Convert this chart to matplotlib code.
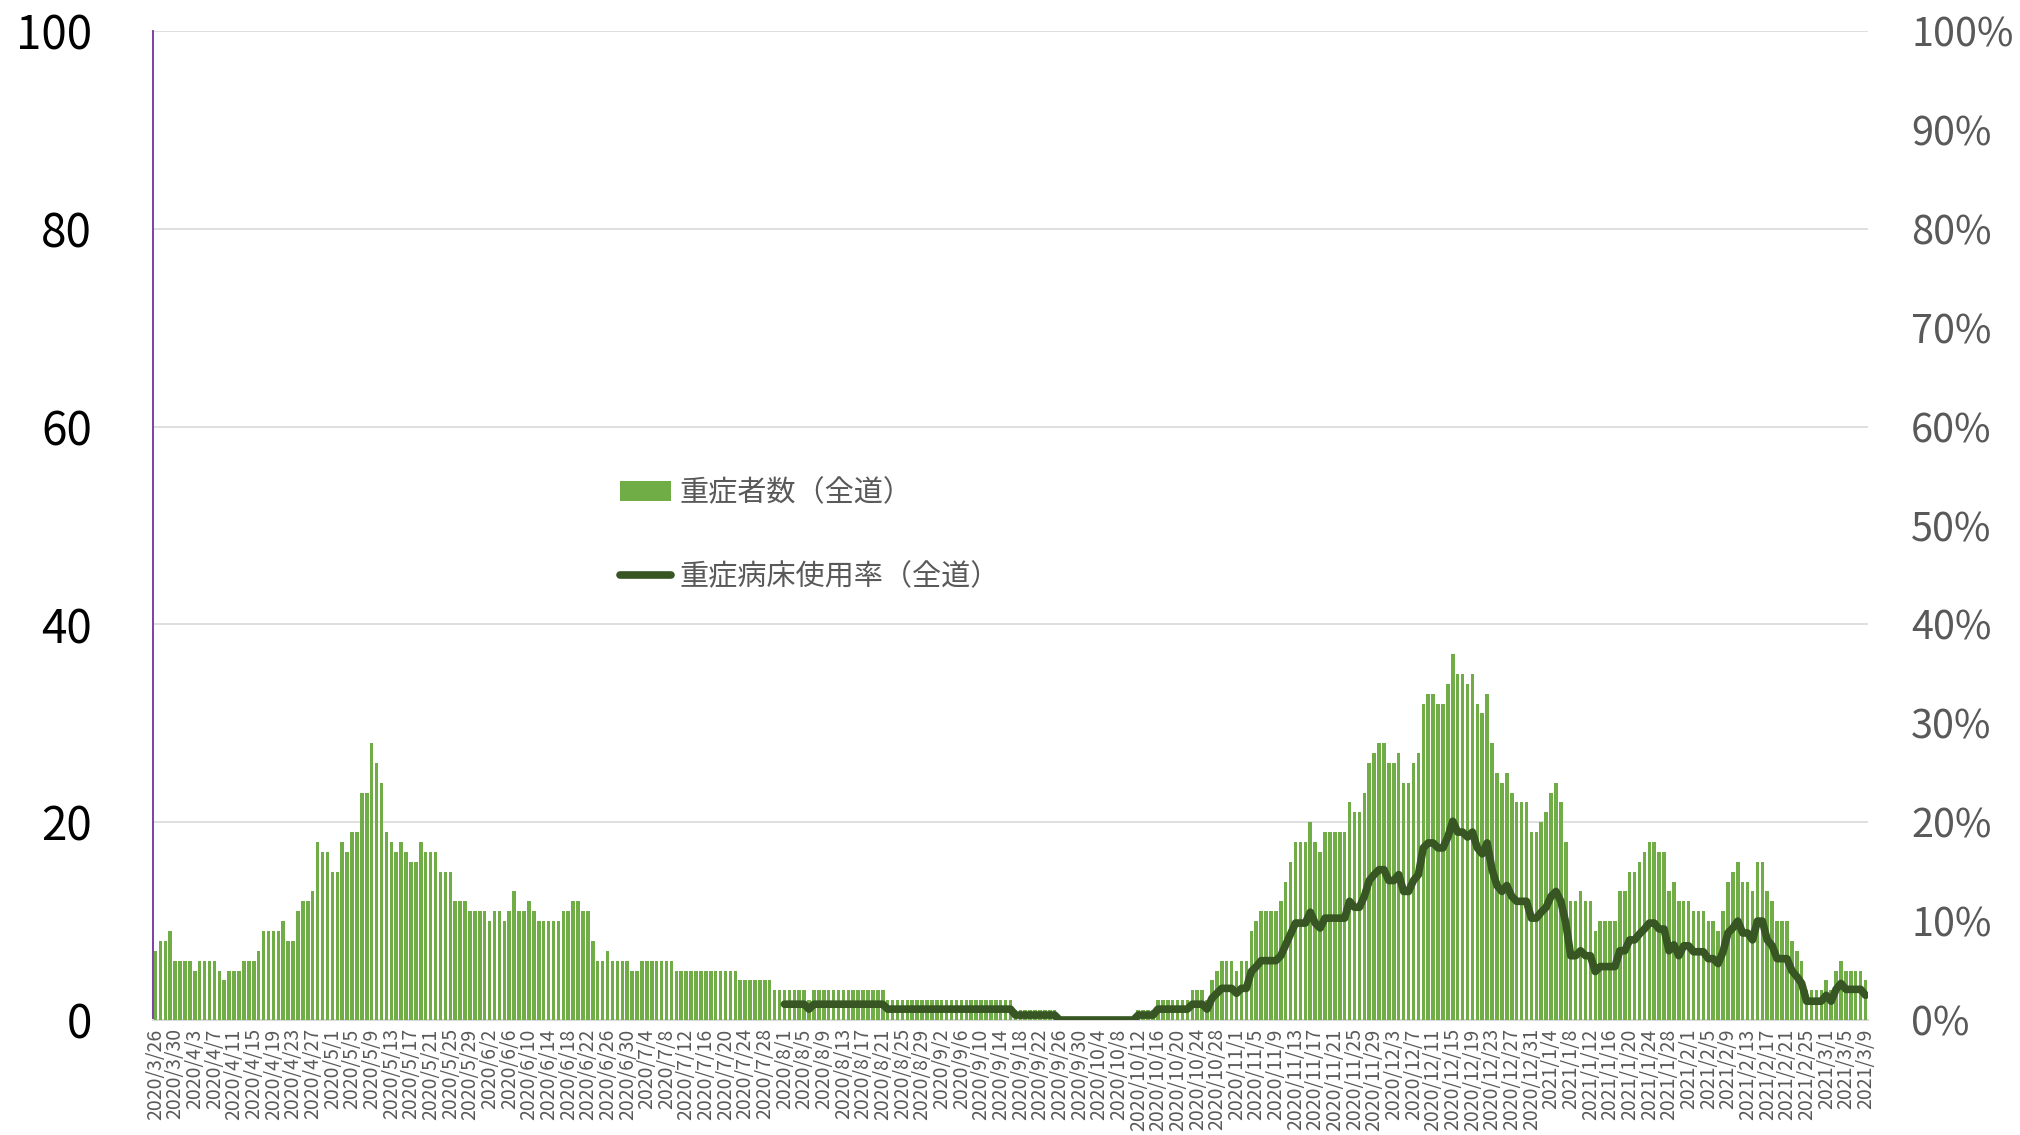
import matplotlib
matplotlib.use("Agg")
import matplotlib.pyplot as plt
import numpy as np
import pandas as pd
from matplotlib.patches import Patch
from matplotlib.lines import Line2D

plt.rcParams['font.family'] = ['Noto Sans CJK JP', 'DejaVu Sans']

# ---- data ----
start_date = "2020-03-26"
end_date = "2021-03-09"
line_start_date = "2020-08-01"

severe_counts = [
    7, 8, 8, 9, 6, 6, 6, 6, 5, 6,
    6, 6, 6, 5, 4, 5, 5, 5, 6, 6,
    6, 7, 9, 9, 9, 9, 10, 8, 8, 11,
    12, 12, 13, 18, 17, 17, 15, 15, 18, 17,
    19, 19, 23, 23, 28, 26, 24, 19, 18, 17,
    18, 17, 16, 16, 18, 17, 17, 17, 15, 15,
    15, 12, 12, 12, 11, 11, 11, 11, 10, 11,
    11, 10, 11, 13, 11, 11, 12, 11, 10, 10,
    10, 10, 10, 11, 11, 12, 12, 11, 11, 8,
    6, 6, 7, 6, 6, 6, 6, 5, 5, 6,
    6, 6, 6, 6, 6, 6, 5, 5, 5, 5,
    5, 5, 5, 5, 5, 5, 5, 5, 5, 4,
    4, 4, 4, 4, 4, 4, 3, 3, 3, 3,
    3, 3, 3, 2, 3, 3, 3, 3, 3, 3,
    3, 3, 3, 3, 3, 3, 3, 3, 3, 2,
    2, 2, 2, 2, 2, 2, 2, 2, 2, 2,
    2, 2, 2, 2, 2, 2, 2, 2, 2, 2,
    2, 2, 2, 2, 2, 1, 1, 1, 1, 1,
    1, 1, 1, 1, 0, 0, 0, 0, 0, 0,
    0, 0, 0, 0, 0, 0, 0, 0, 0, 0,
    1, 1, 1, 1, 2, 2, 2, 2, 2, 2,
    2, 3, 3, 3, 2, 4, 5, 6, 6, 6,
    5, 6, 6, 9, 10, 11, 11, 11, 11, 12,
    14, 16, 18, 18, 18, 20, 18, 17, 19, 19,
    19, 19, 19, 22, 21, 21, 23, 26, 27, 28,
    28, 26, 26, 27, 24, 24, 26, 27, 32, 33,
    33, 32, 32, 34, 37, 35, 35, 34, 35, 32,
    31, 33, 28, 25, 24, 25, 23, 22, 22, 22,
    19, 19, 20, 21, 23, 24, 22, 18, 12, 12,
    13, 12, 12, 9, 10, 10, 10, 10, 13, 13,
    15, 15, 16, 17, 18, 18, 17, 17, 13, 14,
    12, 12, 12, 11, 11, 11, 10, 10, 9, 11,
    14, 15, 16, 14, 14, 13, 16, 16, 13, 12,
    10, 10, 10, 8, 7, 6, 3, 3, 3, 3,
    4, 3, 5, 6, 5, 5, 5, 5, 4,
]

# bed occupancy rate (%) from 2020/8/1
bed_rate = [
    1.6, 1.6,
    1.6, 1.6, 1.6, 1.1, 1.6, 1.6, 1.6, 1.6, 1.6, 1.6,
    1.6, 1.6, 1.6, 1.6, 1.6, 1.6, 1.6, 1.6, 1.6, 1.1,
    1.1, 1.1, 1.1, 1.1, 1.1, 1.1, 1.1, 1.1, 1.1, 1.1,
    1.1, 1.1, 1.1, 1.1, 1.1, 1.1, 1.1, 1.1, 1.1, 1.1,
    1.1, 1.1, 1.1, 1.1, 1.1, 0.5, 0.5, 0.5, 0.5, 0.5,
    0.5, 0.5, 0.5, 0.5, 0.0, 0.0, 0.0, 0.0, 0.0, 0.0,
    0.0, 0.0, 0.0, 0.0, 0.0, 0.0, 0.0, 0.0, 0.0, 0.0,
    0.5, 0.5, 0.5, 0.5, 1.1, 1.1, 1.1, 1.1, 1.1, 1.1,
    1.1, 1.6, 1.6, 1.6, 1.1, 2.2, 2.7, 3.2, 3.2, 3.2,
    2.7, 3.2, 3.2, 4.9, 5.4, 6.0, 6.0, 6.0, 6.0, 6.5,
    7.6, 8.7, 9.8, 9.8, 9.8, 10.9, 9.8, 9.3, 10.3, 10.3,
    10.3, 10.3, 10.3, 12.0, 11.4, 11.4, 12.5, 14.1, 14.7, 15.2,
    15.2, 14.1, 14.1, 14.7, 13.0, 13.0, 14.1, 14.7, 17.4, 17.9,
    17.9, 17.4, 17.4, 18.5, 20.1, 19.0, 19.0, 18.5, 19.0, 17.4,
    16.8, 17.9, 15.2, 13.6, 13.0, 13.6, 12.5, 12.0, 12.0, 12.0,
    10.3, 10.3, 10.9, 11.4, 12.5, 13.0, 12.0, 9.8, 6.5, 6.5,
    7.0, 6.5, 6.5, 4.9, 5.4, 5.4, 5.4, 5.4, 7.0, 7.0,
    8.1, 8.1, 8.7, 9.2, 9.8, 9.8, 9.2, 9.2, 7.0, 7.6,
    6.5, 7.5, 7.5, 6.9, 6.9, 6.9, 6.2, 6.2, 5.7, 6.9,
    8.8, 9.3, 10.0, 8.8, 8.8, 8.1, 10.0, 10.0, 8.1, 7.5,
    6.2, 6.2, 6.2, 5.0, 4.4, 3.7, 1.9, 1.9, 1.9, 1.9,
    2.5, 1.9, 3.1, 3.7, 3.1, 3.1, 3.1, 3.1, 2.5,
]

bar_label = "重症者数（全道）"
line_label = "重症病床使用率（全道）"
left_ticks = [0, 20, 40, 60, 80, 100]
right_ticks = [0, 10, 20, 30, 40, 50, 60, 70, 80, 90, 100]

# ---- derived ----
dates = pd.date_range(start_date, end_date, freq="D")
x = np.arange(len(dates))
line_offset = int((pd.Timestamp(line_start_date) - pd.Timestamp(start_date)).days)
line_x = x[line_offset:line_offset + len(bed_rate)]
tick_pos = x[::4]
tick_labels = [f"{d.year}/{d.month}/{d.day}" for d in dates[::4]]

BAR = "#70AD47"
LINE = "#375623"
GRAY = "#595959"
GRID = "#D9D9D9"

fig = plt.figure(figsize=(20.2, 11.35), dpi=100)
ax = fig.add_axes([153 / 2020, 1 - 1020 / 1135, (1868 - 153) / 2020, (1020 - 31) / 1135])
ax2 = ax.twinx()
ax.set_zorder(1)
ax2.set_zorder(2)
ax.patch.set_visible(False)

ax.bar(x, severe_counts, width=0.72, color=BAR, linewidth=0, zorder=3)
ax2.plot(line_x, bed_rate, color=LINE, linewidth=5.5, solid_capstyle="round",
         solid_joinstyle="round", zorder=4)

ax.set_xlim(-0.5, len(x) - 0.5)
ax.set_ylim(0, 100)
ax2.set_ylim(0, 100)

ax.set_yticks(left_ticks)
ax.set_yticklabels([str(t) for t in left_ticks], fontsize=33, color="black")
ax2.set_yticks(right_ticks)
ax2.set_yticklabels([f"{t}%" for t in right_ticks], fontsize=28.5, color=GRAY)
ax.tick_params(axis="y", length=0, pad=44)
ax2.tick_params(axis="y", length=0, pad=31)

ax.set_xticks(tick_pos)
ax.set_xticklabels(tick_labels, rotation=90, fontsize=14, color=GRAY, va="top", ha="center")
ax.tick_params(axis="x", length=0, pad=6)

ax.grid(axis="y", color=GRID, linewidth=1.2, zorder=0)
ax.set_axisbelow(True)

for s in ["top", "right"]:
    ax.spines[s].set_visible(False)
    ax2.spines[s].set_visible(False)
ax2.spines["left"].set_visible(False)
ax2.spines["bottom"].set_visible(False)
ax.spines["left"].set_color("#7030A0")
ax.spines["left"].set_linewidth(1.3)
ax.spines["bottom"].set_color(GRID)
ax.spines["bottom"].set_linewidth(1.5)

handles = [Patch(facecolor=BAR, edgecolor="none"),
           Line2D([0], [0], color=LINE, linewidth=5.5, solid_capstyle="round")]
leg = fig.legend(handles, [bar_label, line_label], loc="center left",
                 bbox_to_anchor=(620 / 2020, 1 - 535 / 1135), frameon=False,
                 fontsize=21, handlelength=1.75, handletextpad=0.28,
                 labelspacing=1.85, borderpad=0, borderaxespad=0)
for t in leg.get_texts():
    t.set_color(GRAY)

fig.savefig("out.png", dpi=100)
